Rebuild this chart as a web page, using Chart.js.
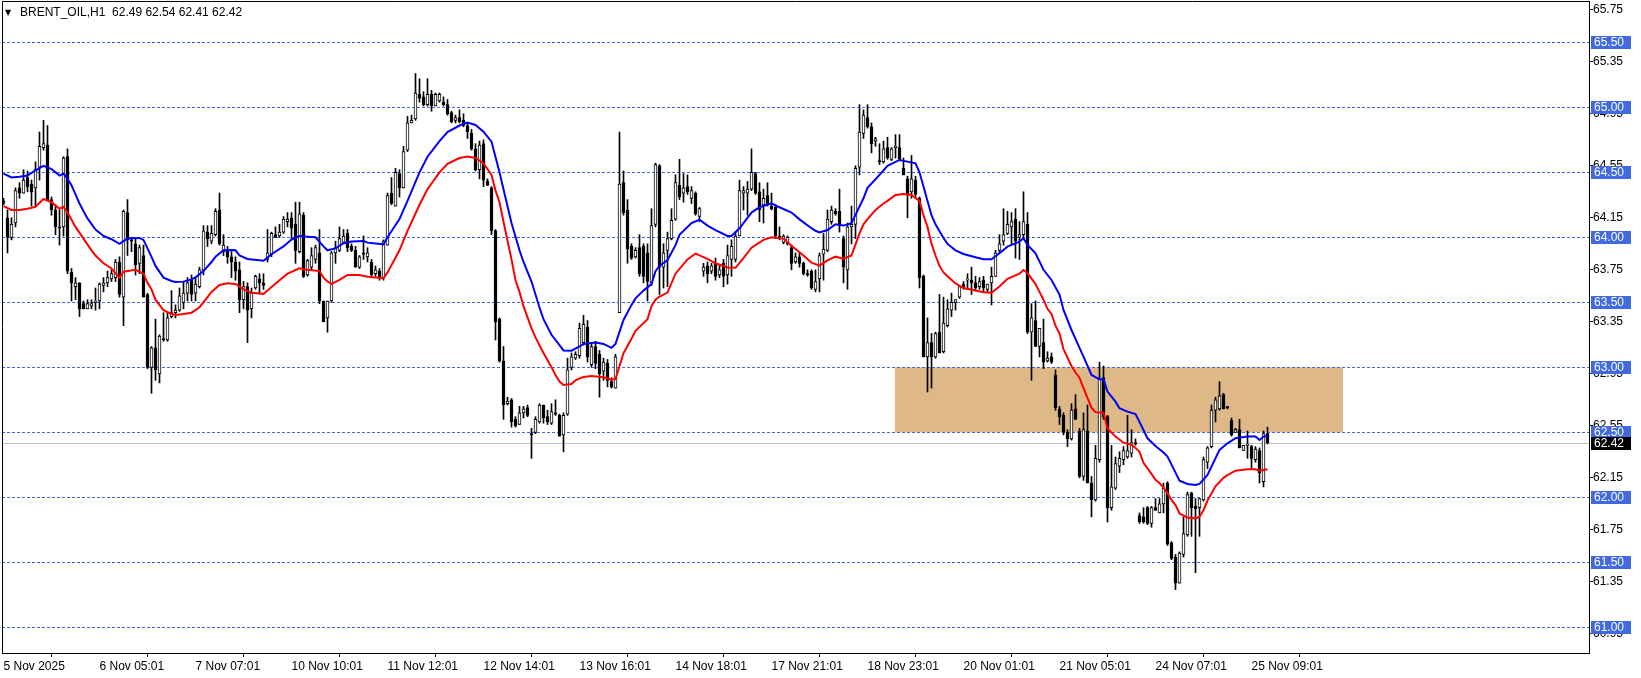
<!DOCTYPE html>
<html>
<head>
<meta charset="utf-8">
<script src="https://cdn.jsdelivr.net/npm/chart.js@4.4.1/dist/chart.umd.min.js"></script>
<style>
  html, body { margin: 0; padding: 0; background: #fff; overflow: hidden; }
  #wrap { width: 1641px; height: 678px; }
</style>
</head>
<body>
<div id="wrap"><canvas id="chart" width="1641" height="678"></canvas></div>
<script>
// H1 candles, bar 0 = 5 Nov 2025
const opens = [
  64.28,64.15,64.00,64.11,64.38,64.34,64.46,64.41,64.38,64.54,
  64.69,64.71,64.29,64.21,64.08,64.08,64.62,63.73,63.62,63.65,
  63.49,63.45,63.47,63.50,63.51,63.63,63.65,63.68,63.69,63.81,
  63.54,64.19,63.98,63.95,63.80,63.86,63.56,63.00,63.15,62.95,
  63.22,63.21,63.39,63.42,63.44,63.50,63.57,63.67,63.57,63.62,
  63.75,64.04,63.97,64.02,64.21,63.89,63.90,63.85,63.81,63.75,
  63.52,63.62,63.45,63.61,63.68,63.65,63.83,63.87,64.02,64.01,
  64.04,64.12,64.15,64.10,63.89,64.17,63.71,63.77,63.83,63.88,
  63.51,63.38,63.51,63.88,63.90,63.96,64.03,63.93,63.90,63.77,
  63.88,63.85,63.81,63.72,63.74,63.69,63.94,64.34,64.24,64.49,
  64.38,64.67,64.88,64.91,65.10,65.08,65.02,65.10,65.01,65.05,
  65.04,65.02,64.96,64.90,64.92,64.90,64.86,64.80,64.68,64.52,
  64.72,64.43,64.38,64.05,63.37,63.05,62.72,62.75,62.60,62.56,
  62.65,62.69,62.49,62.50,62.58,62.71,62.62,62.57,62.65,62.63,
  62.48,62.64,63.00,63.07,63.09,63.19,63.31,63.02,63.16,63.10,
  62.97,63.03,62.89,62.84,63.42,64.42,64.21,63.93,63.85,63.92,
  63.93,63.88,63.65,64.10,64.55,63.77,63.90,63.99,64.14,64.40,
  64.34,64.39,64.30,64.34,64.16,63.74,63.78,63.74,63.80,63.71,
  63.80,63.71,63.83,63.83,64.01,64.34,64.34,64.37,64.49,64.35,
  64.25,64.32,64.24,64.23,64.01,63.96,63.95,63.92,63.81,63.85,
  63.80,63.72,63.74,63.60,63.68,63.87,63.90,64.12,64.20,64.20,
  63.99,63.75,64.08,64.10,64.54,64.80,64.92,64.85,64.74,64.59,
  64.58,64.69,64.60,64.69,64.69,64.53,64.45,64.35,64.44,64.30,
  63.70,63.08,63.19,63.08,63.27,63.12,63.32,63.44,63.50,63.54,
  63.64,63.67,63.67,63.65,63.62,63.67,63.60,63.65,63.70,63.90,
  63.97,64.03,64.08,64.14,64.00,64.02,64.10,63.27,63.36,63.16,
  63.19,63.05,63.08,62.94,62.68,62.63,62.50,62.45,62.68,62.51,
  62.16,62.51,62.11,61.98,62.29,62.92,62.62,61.92,62.07,62.24,
  62.29,62.31,62.34,62.42,61.86,61.85,61.92,61.80,61.92,61.88,
  61.95,62.11,61.65,61.54,61.34,61.56,61.71,62.03,61.93,61.92,
  61.98,62.27,62.39,62.67,62.68,62.79,62.69,62.59,62.50,62.52,
  62.36,62.40,62.39,62.29,62.36,62.12,62.49
];
const highs = [
  64.30,64.21,64.15,64.38,64.42,64.52,64.51,64.44,64.58,64.81,
  64.90,64.86,64.31,64.25,64.21,64.62,64.68,63.76,63.69,63.65,
  63.51,63.52,63.52,63.61,63.65,63.69,63.74,63.75,63.83,63.85,
  64.21,64.29,64.00,63.99,63.94,63.94,63.57,63.16,63.37,63.25,
  63.42,63.42,63.59,63.48,63.61,63.66,63.69,63.71,63.69,63.77,
  64.09,64.09,64.09,64.22,64.34,64.02,63.93,63.89,63.85,63.81,
  63.66,63.65,63.61,63.71,63.72,63.72,64.06,64.04,64.08,64.10,
  64.16,64.19,64.19,64.27,64.27,64.19,63.83,63.92,63.94,64.06,
  63.51,63.51,63.89,63.97,64.08,64.06,64.06,63.95,63.93,63.86,
  64.01,63.92,63.83,63.78,63.76,63.98,64.34,64.46,64.53,64.52,
  64.70,64.93,64.94,65.26,65.22,65.12,65.22,65.13,65.11,65.11,
  65.08,65.06,64.97,64.94,64.98,64.95,64.88,64.83,64.72,64.74,
  64.75,64.45,64.39,64.06,63.38,63.16,62.77,62.76,62.62,62.70,
  62.70,62.71,62.53,62.62,62.72,62.71,62.67,62.72,62.75,62.64,
  62.65,63.07,63.11,63.12,63.34,63.40,63.36,63.18,63.20,63.13,
  63.07,63.06,62.92,63.10,64.81,64.51,64.29,63.95,63.92,64.02,
  63.95,63.95,64.22,64.57,64.56,63.95,64.04,64.22,64.48,64.60,
  64.49,64.48,64.39,64.35,64.23,63.80,63.81,63.80,63.84,63.79,
  63.83,63.94,63.98,64.04,64.44,64.39,64.43,64.68,64.50,64.42,
  64.37,64.42,64.34,64.25,64.08,64.02,64.01,63.94,63.88,63.88,
  63.81,63.75,63.75,63.75,63.88,64.03,64.21,64.24,64.22,64.37,
  64.01,64.11,64.24,64.55,65.02,64.98,65.02,64.88,64.77,64.72,
  64.74,64.77,64.69,64.79,64.79,64.61,64.47,64.63,64.47,64.31,
  63.71,63.38,63.26,63.27,63.56,63.54,63.52,63.57,63.52,63.62,
  63.66,63.72,63.77,63.70,63.69,63.70,63.64,63.77,63.90,64.02,
  64.22,64.20,64.19,64.22,64.12,64.35,64.19,63.49,63.51,63.30,
  63.37,63.12,63.11,62.98,62.70,62.65,62.52,62.72,62.79,62.53,
  62.65,62.71,62.16,62.40,63.04,63.01,62.63,62.40,62.31,62.35,
  62.39,62.63,62.52,62.45,61.88,61.92,61.93,61.93,61.99,61.99,
  62.11,62.12,61.66,61.56,61.58,61.85,62.04,62.04,61.99,61.99,
  62.31,62.39,62.71,62.77,62.89,62.80,62.70,62.61,62.53,62.60,
  62.40,62.51,62.40,62.39,62.38,62.51,62.54
];
const lows = [
  64.25,63.88,63.98,64.08,64.30,64.34,64.35,64.24,64.24,64.44,
  64.67,64.29,64.17,64.02,63.94,64.01,63.72,63.51,63.52,63.39,
  63.45,63.45,63.45,63.44,63.45,63.58,63.62,63.66,63.66,63.54,
  63.32,63.86,63.89,63.71,63.72,63.54,62.99,62.80,62.90,62.88,
  63.20,63.20,63.38,63.38,63.43,63.45,63.51,63.51,63.51,63.61,
  63.71,63.93,63.95,64.01,63.94,63.86,63.80,63.69,63.67,63.42,
  63.45,63.19,63.38,63.60,63.57,63.60,63.81,63.85,64.00,64.00,
  64.03,64.08,63.98,63.80,63.88,63.69,63.70,63.75,63.80,63.49,
  63.35,63.27,63.50,63.80,63.89,63.95,63.89,63.89,63.77,63.76,
  63.83,63.81,63.69,63.70,63.67,63.67,63.94,64.25,64.24,64.31,
  64.38,64.66,64.88,64.90,65.04,65.01,65.01,64.97,65.01,65.04,
  65.01,64.94,64.88,64.88,64.88,64.85,64.76,64.67,64.51,64.45,
  64.39,64.40,64.02,63.21,63.04,62.60,62.71,62.54,62.54,62.56,
  62.61,62.62,62.30,62.49,62.57,62.57,62.56,62.56,62.63,62.47,
  62.35,62.63,62.98,63.06,63.07,63.17,63.04,63.00,62.99,62.77,
  62.90,62.85,62.84,62.84,63.42,64.17,63.80,63.83,63.84,63.70,
  63.65,63.51,63.63,64.08,63.56,63.61,63.62,63.98,64.13,64.29,
  64.27,64.33,64.26,64.17,64.12,63.70,63.65,63.72,63.67,63.69,
  63.62,63.64,63.70,63.81,64.01,64.21,64.17,64.36,64.33,64.12,
  64.11,64.24,64.21,63.99,63.98,63.95,63.94,63.75,63.80,63.77,
  63.71,63.70,63.60,63.58,63.58,63.67,63.89,64.10,64.17,64.04,
  63.65,63.60,63.95,63.99,64.48,64.76,64.84,64.65,64.70,64.56,
  64.57,64.60,64.59,64.61,64.59,64.48,64.15,64.30,64.30,63.61,
  63.08,62.81,62.84,63.07,63.11,63.11,63.31,63.39,63.44,63.53,
  63.60,63.60,63.56,63.59,63.60,63.58,63.58,63.48,63.70,63.88,
  63.94,64.02,63.94,63.84,63.83,64.00,63.26,62.90,63.16,63.08,
  62.99,63.04,63.03,62.67,62.56,62.48,62.39,62.44,62.60,62.15,
  62.13,62.11,61.85,61.97,62.27,62.60,61.81,61.90,62.06,62.19,
  62.25,62.30,62.31,62.40,61.80,61.80,61.79,61.77,61.90,61.88,
  61.88,61.63,61.52,61.29,61.34,61.54,61.70,61.70,61.42,61.70,
  61.97,62.22,62.38,62.58,62.67,62.68,62.68,62.47,62.50,62.38,
  62.36,62.30,62.22,62.27,62.11,62.08,62.41
];
const closes = [
  64.26,64.00,64.10,64.36,64.34,64.44,64.39,64.35,64.52,64.70,
  64.72,64.29,64.21,64.08,64.07,64.61,63.74,63.65,63.65,63.45,
  63.45,63.49,63.49,63.51,63.64,63.65,63.69,63.72,63.81,63.56,
  64.20,63.98,63.97,63.79,63.92,63.54,63.00,63.15,62.98,63.24,
  63.21,63.38,63.42,63.44,63.55,63.57,63.65,63.56,63.64,63.75,
  64.05,63.99,64.03,64.20,63.95,63.94,63.85,63.81,63.74,63.52,
  63.62,63.44,63.57,63.70,63.65,63.63,63.88,64.03,64.00,64.04,
  64.14,64.14,64.07,63.90,64.18,63.70,63.82,63.86,63.92,63.51,
  63.35,63.51,63.88,63.92,63.99,64.01,63.92,63.90,63.77,63.85,
  63.87,63.88,63.71,63.75,63.69,63.97,64.32,64.26,64.50,64.38,
  64.66,64.88,64.90,65.11,65.07,65.02,65.10,65.01,65.10,65.10,
  65.02,64.95,64.89,64.92,64.89,64.86,64.81,64.68,64.52,64.71,
  64.44,64.40,64.05,63.35,63.05,62.71,62.74,62.58,62.55,62.65,
  62.68,62.63,62.48,62.60,62.71,62.61,62.58,62.66,62.64,62.47,
  62.63,62.98,63.08,63.10,63.30,63.33,63.08,63.16,63.03,62.95,
  63.04,62.90,62.85,63.08,64.41,64.19,63.91,63.84,63.90,63.72,
  63.70,63.66,64.09,64.56,63.77,63.88,63.99,64.13,64.42,64.31,
  64.38,64.35,64.36,64.18,64.22,63.77,63.72,63.78,63.70,63.75,
  63.70,63.86,63.93,64.01,64.36,64.36,64.37,64.50,64.34,64.21,
  64.30,64.25,64.22,64.01,63.99,64.01,64.00,63.80,63.85,63.80,
  63.72,63.71,63.61,63.66,63.86,63.91,64.14,64.21,64.18,64.09,
  63.77,64.08,64.10,64.53,64.81,64.94,64.85,64.72,64.76,64.58,
  64.68,64.61,64.68,64.70,64.60,64.48,64.33,64.45,64.33,63.69,
  63.08,63.19,63.08,63.26,63.11,63.34,63.45,63.50,63.52,63.62,
  63.62,63.68,63.65,63.61,63.66,63.61,63.64,63.70,63.88,63.95,
  64.02,64.10,64.12,63.97,64.02,64.12,63.27,63.38,63.16,63.30,
  63.04,63.07,63.04,62.69,62.62,62.50,62.45,62.67,62.60,62.16,
  62.52,62.11,61.98,62.30,62.91,62.62,61.92,62.08,62.26,62.30,
  62.36,62.36,62.42,62.41,61.81,61.81,61.80,61.92,61.90,61.95,
  62.07,61.64,61.53,61.34,61.57,61.72,62.02,61.92,61.91,61.99,
  62.29,62.38,62.67,62.75,62.78,62.68,62.69,62.48,62.52,62.38,
  62.40,62.41,62.30,62.37,62.19,62.49,62.42
];

// moving averages (bar index, price)
const blueAt = [0,2,4,6,8,10,12,14,15,16,17,18,19,20,21,23,25,27,29,31,34,35,37,38,40,42,43,45,47,48,50,52,53,55,57,58,59,61,65,67,70,72,74,76,78,80,81,83,85,87,90,91,95,96,99,101,104,106,109,111,114,116,118,120,122,124,125,127,129,130,132,134,135,137,139,140,142,144,145,148,150,152,153,155,157,158,160,162,163,164,166,168,169,172,174,176,178,181,182,184,187,189,192,194,197,199,202,203,204,206,208,210,212,213,215,216,219,221,224,226,228,229,231,232,233,235,236,238,240,243,245,247,249,251,254,255,256,258,260,262,264,265,267,269,270,272,274,275,276,278,279,281,283,284,286,288,290,291,293,294,296,298,299,301,303,304,306,308,311,313,314,315,316];
const blueMa = [64.49,64.46,64.465,64.475,64.515,64.55,64.525,64.475,64.49,64.45,64.40,64.33,64.26,64.20,64.145,64.06,64.01,63.985,63.95,63.99,63.995,63.98,63.85,63.78,63.69,63.664,63.656,63.659,63.676,63.692,63.74,63.81,63.85,63.90,63.903,63.90,63.86,63.833,63.82,63.87,63.93,63.983,64.01,64.005,64.0,63.93,63.90,63.915,63.955,63.967,63.972,63.959,63.946,64.0,64.14,64.28,64.50,64.62,64.74,64.81,64.86,64.882,64.864,64.813,64.736,64.50,64.37,64.11,63.90,63.81,63.66,63.46,63.37,63.25,63.17,63.13,63.128,63.16,63.18,63.19,63.18,63.15,63.18,63.364,63.48,63.53,63.59,63.64,63.74,63.78,63.825,63.94,64.02,64.11,64.135,64.09,64.056,64.01,64.01,64.069,64.19,64.231,64.262,64.231,64.19,64.138,64.07,64.05,64.038,64.056,64.10,64.09,64.108,64.172,64.30,64.38,64.48,64.55,64.595,64.582,64.569,64.50,64.28,64.17,64.10,63.995,63.949,63.90,63.872,63.846,63.831,63.831,63.877,63.928,63.967,63.992,63.941,63.877,63.75,63.672,63.56,63.441,63.287,63.15,63.082,62.941,62.908,62.908,62.813,62.736,62.685,62.659,62.641,62.58,62.454,62.395,62.344,62.313,62.19,62.128,62.103,62.095,62.103,62.172,62.30,62.364,62.415,62.454,62.467,62.467,62.441,62.467,62.472];
const redAt = [0,2,4,6,8,10,12,14,15,16,18,20,22,23,25,27,29,30,33,35,36,37,38,40,42,43,45,47,49,51,52,54,56,58,60,62,65,66,69,71,74,75,79,80,81,82,84,86,89,91,95,96,99,101,104,106,109,111,114,116,118,120,122,123,124,125,127,128,129,130,132,133,134,135,137,138,139,140,142,143,144,145,147,150,152,153,155,157,158,161,162,163,164,166,168,171,173,176,178,181,183,185,187,190,192,195,197,200,202,204,206,208,210,212,214,215,216,218,220,221,223,225,227,229,230,231,232,233,234,235,236,238,240,243,245,247,249,251,254,255,256,258,259,260,261,262,263,264,265,267,268,269,270,272,273,275,276,278,280,282,283,284,285,287,288,289,290,291,292,293,294,296,298,299,300,301,303,305,306,308,311,313,314,316];
const redMa = [64.24,64.21,64.21,64.22,64.235,64.295,64.27,64.22,64.235,64.19,64.08,63.99,63.90,63.86,63.80,63.76,63.69,63.735,63.75,63.72,63.65,63.60,63.52,63.44,63.41,63.403,63.41,63.42,63.462,63.54,63.58,63.633,63.646,63.641,63.60,63.574,63.565,63.59,63.67,63.72,63.762,63.755,63.74,63.69,63.66,63.641,63.672,63.71,63.71,63.697,63.685,63.73,63.90,64.05,64.25,64.37,64.50,64.565,64.61,64.621,64.61,64.57,64.48,64.36,64.27,64.12,63.83,63.67,63.58,63.47,63.30,63.23,63.17,63.11,63.0,62.94,62.89,62.864,62.872,62.90,62.915,62.925,62.933,62.923,62.905,62.91,63.108,63.22,63.28,63.37,63.47,63.52,63.544,63.575,63.72,63.83,63.875,63.834,63.80,63.768,63.765,63.84,63.92,63.98,64.0,63.99,63.935,63.86,63.805,63.782,63.823,63.851,63.835,63.86,64.03,64.10,64.14,64.21,64.26,64.28,64.326,64.333,64.326,64.28,64.17,64.08,63.95,63.86,63.78,63.73,63.70,63.645,63.61,63.59,63.578,63.574,63.621,63.68,63.72,63.748,63.725,63.64,63.58,63.52,63.45,63.41,63.32,63.26,63.14,63.01,62.96,62.92,62.84,62.69,62.655,62.651,62.53,62.467,62.42,62.405,62.38,62.35,62.265,62.18,62.135,62.11,62.075,62.03,61.98,61.94,61.875,61.845,61.838,61.85,61.90,61.975,62.085,62.15,62.17,62.205,62.215,62.215,62.205,62.215];

const timeAt = [0,24,48,72,96,120,144,168,192,216,240,264,288,312];
const timeLabels = ['5 Nov 2025','6 Nov 05:01','7 Nov 07:01','10 Nov 10:01','11 Nov 12:01','12 Nov 14:01','13 Nov 16:01','14 Nov 18:01','17 Nov 21:01','18 Nov 23:01','20 Nov 01:01','21 Nov 05:01','24 Nov 07:01','25 Nov 09:01'];
const priceTicks = [60.95,61.35,61.75,62.15,62.55,62.95,63.35,63.75,64.15,64.55,64.95,65.35,65.75];
const levels = [65.50,65.00,64.50,64.00,63.50,63.00,62.50,62.00,61.50,61.00];
const zoneBars = [222.85, 334.9];
const zonePrices = [62.50, 63.00];
const symbol = 'BRENT_OIL,H1';

const FONT = '"Liberation Sans", Arial, sans-serif';
const LEVEL_BLUE = '#4169e1';
const last = closes.length - 1;
const barIdx = closes.map((_, i) => i);

const mt4Overlay = {
  id: 'mt4Overlay',
  beforeDatasetsDraw(chart) {
    const { ctx, chartArea: a, scales: { x, y } } = chart;
    ctx.save();
    ctx.beginPath();
    ctx.rect(a.left, a.top, a.right - a.left, a.bottom - a.top);
    ctx.clip();
    // support zone
    const zx1 = x.getPixelForValue(zoneBars[0]);
    const zx2 = x.getPixelForValue(zoneBars[1]);
    const zy1 = y.getPixelForValue(zonePrices[1]);
    const zy2 = y.getPixelForValue(zonePrices[0]);
    ctx.fillStyle = '#deb887';
    ctx.fillRect(zx1, zy1, zx2 - zx1, zy2 - zy1);
    // horizontal levels
    ctx.strokeStyle = LEVEL_BLUE;
    ctx.lineWidth = 1;
    ctx.setLineDash([3, 2]);
    levels.forEach(lv => {
      const py = Math.round(y.getPixelForValue(lv)) + 0.5;
      ctx.beginPath();
      ctx.moveTo(a.left, py);
      ctx.lineTo(a.right, py);
      ctx.stroke();
    });
    // bid line
    ctx.setLineDash([]);
    ctx.strokeStyle = '#c0c0c0';
    const by = Math.round(y.getPixelForValue(closes[last])) + 0.5;
    ctx.beginPath();
    ctx.moveTo(a.left, by);
    ctx.lineTo(a.right, by);
    ctx.stroke();
    ctx.restore();
  },
  afterDraw(chart) {
    const { ctx, chartArea: a, scales: { y } } = chart;
    ctx.save();
    // frame
    ctx.strokeStyle = '#000';
    ctx.lineWidth = 1;
    ctx.beginPath();
    ctx.moveTo(a.left + 0.5, a.bottom);
    ctx.lineTo(a.left + 0.5, a.top + 0.5);
    ctx.lineTo(a.right, a.top + 0.5);
    ctx.stroke();

    ctx.font = '12px ' + FONT;
    ctx.textBaseline = 'middle';
    ctx.textAlign = 'left';
    const tag = (price, bg) => {
      const py = Math.round(y.getPixelForValue(price));
      ctx.fillStyle = bg;
      ctx.fillRect(a.right + 2, py - 6, 40, 13);
      ctx.fillStyle = '#fff';
      ctx.fillText(price.toFixed(2), a.right + 5, py + 1);
    };
    levels.forEach(lv => tag(lv, LEVEL_BLUE));
    tag(closes[last], '#000');

    // symbol header
    ctx.fillStyle = '#000';
    ctx.font = '8px "DejaVu Sans", sans-serif';
    ctx.fillText('\u25BC', a.left + 3, 13);
    ctx.font = '12px ' + FONT;
    const ohlc = [opens[last], highs[last], lows[last], closes[last]].map(v => v.toFixed(2)).join(' ');
    ctx.fillText(symbol + '  ' + ohlc, a.left + 18, 13);
    ctx.restore();
  }
};

new Chart(document.getElementById('chart'), {
  type: 'bar',
  data: {
    labels: barIdx,
    datasets: [
      {
        type: 'line',
        data: blueAt.map((b, i) => ({ x: b, y: blueMa[i] })),
        borderColor: '#0000ff',
        borderWidth: 2,
        pointRadius: 0,
        tension: 0,
        order: 0
      },
      {
        type: 'line',
        data: redAt.map((b, i) => ({ x: b, y: redMa[i] })),
        borderColor: '#ff0000',
        borderWidth: 2,
        pointRadius: 0,
        tension: 0,
        order: 1
      },
      {
        data: opens.map((o, i) => [o, closes[i]]),
        backgroundColor: closes.map((c, i) => c > opens[i] ? '#ffffff' : '#000000'),
        borderColor: '#000000',
        borderWidth: 1,
        borderSkipped: false,
        barThickness: 3,
        minBarLength: 1,
        grouped: false,
        order: 2
      },
      {
        data: lows.map((l, i) => [l, highs[i]]),
        backgroundColor: '#000000',
        borderWidth: 0,
        barThickness: 1,
        minBarLength: 1,
        grouped: false,
        order: 3
      }
    ]
  },
  options: {
    responsive: false,
    devicePixelRatio: 1,
    animation: false,
    events: [],
    layout: { padding: { left: 2, top: 1, right: 0, bottom: 0 } },
    plugins: {
      legend: { display: false },
      tooltip: { enabled: false }
    },
    scales: {
      x: {
        type: 'linear',
        position: 'bottom',
        offset: false,
        min: -0.375,
        max: 396.375,
        grid: { display: true, drawOnChartArea: false, tickLength: 4, color: '#000' },
        border: { display: true, color: '#000' },
        ticks: {
          autoSkip: false,
          maxRotation: 0,
          align: 'start',
          padding: 2,
          color: '#000',
          font: { family: FONT, size: 12 },
          callback: (v, i) => timeLabels[i]
        },
        afterBuildTicks: s => { s.ticks = timeAt.map(v => ({ value: v })); },
        afterFit: s => { s.height = 25; s.paddingLeft = 0; s.paddingRight = 0; }
      },
      y: {
        type: 'linear',
        position: 'right',
        min: 60.8023,
        max: 65.8177,
        grid: { display: true, drawOnChartArea: false, tickLength: 4, color: '#000' },
        border: { display: true, color: '#000' },
        ticks: {
          padding: 0,
          color: '#000',
          font: { family: FONT, size: 12 },
          callback: v => Number(v).toFixed(2)
        },
        afterBuildTicks: s => { s.ticks = priceTicks.map(v => ({ value: v })); },
        afterFit: s => { s.width = 52; s.paddingTop = 0; s.paddingBottom = 0; }
      }
    }
  },
  plugins: [mt4Overlay]
});
</script>
</body>
</html>
